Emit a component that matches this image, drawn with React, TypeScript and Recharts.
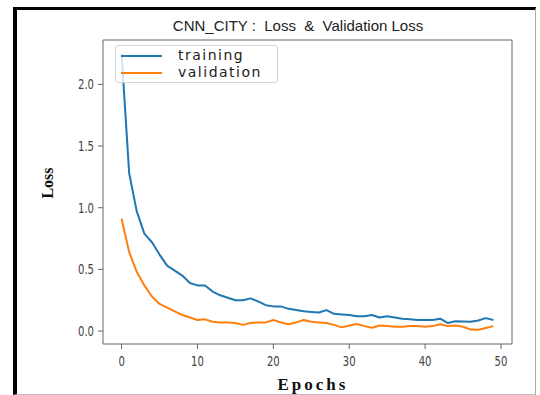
import { LineChart, Line, XAxis, YAxis, ReferenceLine } from "recharts";

const epochs = Array.from({ length: 50 }, (_, i) => i);

const trainingLoss = [
  2.25, 1.28, 0.97, 0.79, 0.72, 0.62, 0.53, 0.49, 0.45, 0.39,
  0.37, 0.37, 0.32, 0.29, 0.27, 0.25, 0.25, 0.265, 0.24, 0.21,
  0.2, 0.2, 0.18, 0.17, 0.16, 0.155, 0.15, 0.17, 0.14, 0.135,
  0.13, 0.12, 0.12, 0.13, 0.11, 0.12, 0.11, 0.1, 0.095, 0.09,
  0.09, 0.09, 0.1, 0.065, 0.08, 0.078, 0.075, 0.085, 0.105, 0.09,
];

const validationLoss = [
  0.91, 0.64, 0.48, 0.37, 0.28, 0.22, 0.19, 0.16, 0.13, 0.11,
  0.09, 0.095, 0.075, 0.07, 0.07, 0.065, 0.05, 0.065, 0.07, 0.07,
  0.09, 0.07, 0.055, 0.07, 0.09, 0.075, 0.07, 0.065, 0.05, 0.03,
  0.045, 0.057, 0.04, 0.027, 0.045, 0.04, 0.035, 0.035, 0.04, 0.04,
  0.035, 0.04, 0.055, 0.04, 0.045, 0.035, 0.012, 0.01, 0.025, 0.04,
];

const xTicks = [0, 10, 20, 30, 40, 50];
const yTicks = [0, 0.5, 1, 1.5, 2];
const xDomain = [-2.45, 51.45];
const yDomain = [-0.105, 2.36];

const data = epochs.map((epoch, i) => ({
  epoch,
  training: trainingLoss[i],
  validation: validationLoss[i],
}));

const TRAIN_COLOR = "#1f77b4";
const VAL_COLOR = "#ff7f0e";
const tickFont = "'DejaVu Sans', sans-serif";

const XTick = ({ x, y, payload }: any) => (
  <g transform={`translate(${x},${y})`}>
    <text transform="scale(0.72,1)" y={15} textAnchor="middle" fontFamily={tickFont} fontSize={14} fill="#444">
      {payload.value}
    </text>
  </g>
);

const YTick = ({ x, y, payload }: any) => (
  <g transform={`translate(${x - 2},${y})`}>
    <text transform="scale(0.72,1)" y={5} textAnchor="end" fontFamily={tickFont} fontSize={14} fill="#444">
      {Number(payload.value).toFixed(1)}
    </text>
  </g>
);

const legendItems = [
  { name: "training", color: TRAIN_COLOR, top: 10 },
  { name: "validation", color: VAL_COLOR, top: 27 },
];

const LegendBox = () => (
  <div
    style={{
      position: "absolute",
      left: 115,
      top: 45,
      width: 161,
      height: 36,
      border: "1px solid #d4d4d4",
      borderRadius: 3,
      background: "rgba(255,255,255,0.8)",
      fontFamily: tickFont,
      fontSize: 14,
      letterSpacing: 1.5,
      color: "#222",
    }}
  >
    {legendItems.map((item) => (
      <div key={item.name}>
        <div style={{ position: "absolute", left: 5, top: item.top - 1, width: 41, height: 2, background: item.color }} />
        <div style={{ position: "absolute", left: 62, top: item.top - 10, lineHeight: "18px" }}>{item.name}</div>
      </div>
    ))}
  </div>
);

export default function App() {
  return (
    <div style={{ position: "fixed", left: 0, top: 0, width: 540, height: 395, background: "#fff" }}>
      <div
        style={{
          position: "absolute",
          left: 13,
          top: 7,
          width: 518,
          height: 384,
          borderLeft: "4px solid #000",
          borderTop: "3px solid #000",
          borderRight: "1px solid #aaa",
          borderBottom: "1px solid #bbb",
        }}
      />
      <LineChart width={540} height={395} data={data} margin={{ top: 40, right: 28, bottom: 0, left: 58 }}>
        <XAxis
          dataKey="epoch"
          type="number"
          domain={xDomain}
          ticks={xTicks}
          allowDataOverflow
          height={51}
          tickSize={5}
          tickMargin={2}
          stroke="#666"
          tick={<XTick />}
        />
        <YAxis
          type="number"
          domain={yDomain}
          ticks={yTicks}
          allowDataOverflow
          width={45}
          tickSize={5}
          tickMargin={2}
          stroke="#666"
          tick={<YTick />}
        />
        <ReferenceLine x={xDomain[1]} stroke="#666" ifOverflow="visible" />
        <ReferenceLine y={yDomain[1]} stroke="#666" ifOverflow="visible" />
        <Line dataKey="training" stroke={TRAIN_COLOR} strokeWidth={2} strokeLinejoin="round" dot={false} isAnimationActive={false} type="linear" />
        <Line dataKey="validation" stroke={VAL_COLOR} strokeWidth={2} strokeLinejoin="round" dot={false} isAnimationActive={false} type="linear" />
      </LineChart>
      <LegendBox />
      <svg width={540} height={395} style={{ position: "absolute", left: 0, top: 0, pointerEvents: "none" }}>
        <text x={298} y={31} textAnchor="middle" fontFamily="'Liberation Sans', Arial, sans-serif" fontSize={15} fill="#222" style={{ whiteSpace: "pre" }}>
          {"CNN_CITY :  Loss  &  Validation Loss"}
        </text>
        <text
          transform="translate(53,183) rotate(-90)"
          textAnchor="middle"
          fontFamily="'Liberation Serif', 'Times New Roman', serif"
          fontWeight="bold"
          fontSize={16}
          fill="#111"
        >
          Loss
        </text>
        <text
          x={313}
          y={390}
          textAnchor="middle"
          fontFamily="'Liberation Serif', 'Times New Roman', serif"
          fontWeight="bold"
          fontSize={17}
          letterSpacing={3}
          fill="#111"
        >
          Epochs
        </text>
      </svg>
    </div>
  );
}
